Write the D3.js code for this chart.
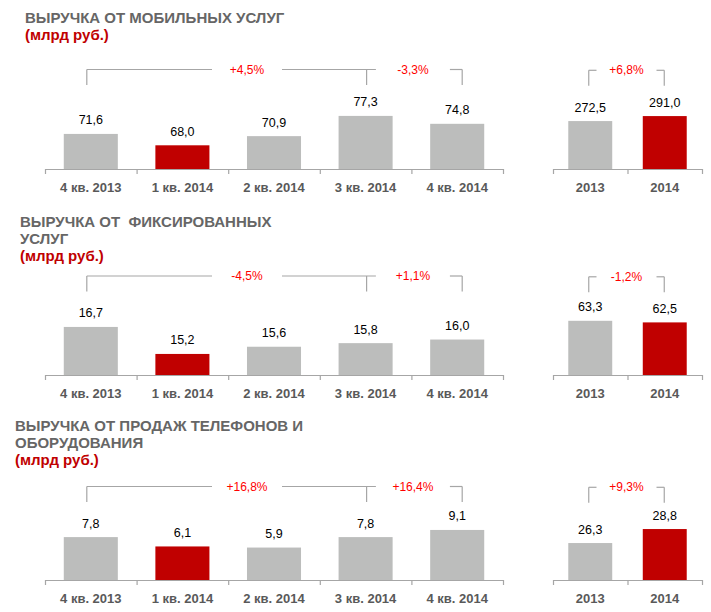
<!DOCTYPE html>
<html>
<head>
<meta charset="utf-8">
<script src="https://cdn.jsdelivr.net/npm/d3@7"></script>
<style>
  body { margin: 0; background: #fff; }
  svg { display: block; font-family: Arial, "Liberation Sans", sans-serif; }
</style>
</head>
<body>
<div id="chart"></div>
<script>
// Data
const quarters = ['4 кв. 2013', '1 кв. 2014', '2 кв. 2014', '3 кв. 2014', '4 кв. 2014'];
const years = ['2013', '2014'];

const mobileQuarterly = [71.6, 68.0, 70.9, 77.3, 74.8];
const mobileYearly = [272.5, 291.0];
const mobileChanges = ['+4,5%', '-3,3%', '+6,8%'];

const fixedQuarterly = [16.7, 15.2, 15.6, 15.8, 16.0];
const fixedYearly = [63.3, 62.5];
const fixedChanges = ['-4,5%', '+1,1%', '-1,2%'];

const equipQuarterly = [7.8, 6.1, 5.9, 7.8, 9.1];
const equipYearly = [26.3, 28.8];
const equipChanges = ['+16,8%', '+16,4%', '+9,3%'];

const titles = [
    ['ВЫРУЧКА ОТ МОБИЛЬНЫХ УСЛУГ'],
    ['ВЫРУЧКА ОТ  ФИКСИРОВАННЫХ', 'УСЛУГ'],
    ['ВЫРУЧКА ОТ ПРОДАЖ ТЕЛЕФОНОВ И', 'ОБОРУДОВАНИЯ']
];
const unitLabel = '(млрд руб.)';
const highlightIndex = 1;

// Layout / styling
const width = 711;
const height = 612;
const colors = { bar: '#bcbdbc', highlight: '#c00000', title: '#666666', unit: '#c00000', axis: '#a6a6a6', cat: '#595959', change: '#ff0000' };

const panels = [
    { q: mobileQuarterly, y: mobileYearly, ch: mobileChanges, title: titles[0], titleX: 25, titleY: 23, axisY: 169, bracketY: 69.5,
      qBase: 60.5, qPx: 3.16, yBase: 95, yPx: 0.27 },
    { q: fixedQuarterly, y: fixedYearly, ch: fixedChanges, title: titles[1], titleX: 20, titleY: 227, axisY: 375, bracketY: 276,
      qBase: 14.03, qPx: 18, yBase: 36.2, yPx: 2 },
    { q: equipQuarterly, y: equipYearly, ch: equipChanges, title: titles[2], titleX: 15, titleY: 431, axisY: 580, bracketY: 486.5,
      qBase: 0, qPx: 5.5, yBase: 19.7, yPx: 5.6 }
];

const svg = d3.select('#chart')
    .append('svg')
    .attr('width', width)
    .attr('height', height);

// Band scales shared by all panels
const xQ = d3.scaleBand().domain(quarters).range([45, 503]).paddingInner(0.41).paddingOuter(0.205);
const xY = d3.scaleBand().domain(years).range([553, 702]).paddingInner(0.41).paddingOuter(0.205);

function drawBars(g, x, values, axisY, base, px) {
    const maxV = d3.max(values);
    const y = d3.scaleLinear()
        .domain([base, maxV])
        .range([axisY, axisY - px * (maxV - base)]);
    const cats = x.domain();

    g.selectAll(null)
        .data(values)
        .enter()
        .append('rect')
        .attr('x', (d, i) => x(cats[i]))
        .attr('y', d => y(d))
        .attr('width', x.bandwidth())
        .attr('height', d => axisY - y(d))
        .attr('fill', (d, i) => i === highlightIndex ? colors.highlight : colors.bar);

    g.selectAll(null)
        .data(values)
        .enter()
        .append('text')
        .attr('x', (d, i) => x(cats[i]) + x.bandwidth() / 2)
        .attr('y', d => y(d) - 9.5)
        .attr('text-anchor', 'middle')
        .attr('font-size', '12.5px')
        .attr('fill', '#000')
        .text(d => d3.format('.1f')(d).replace('.', ','));

    // Axis line with ticks at band boundaries
    const [r0, r1] = x.range();
    g.append('line')
        .attr('x1', r0).attr('x2', r1)
        .attr('y1', axisY + 0.5).attr('y2', axisY + 0.5)
        .attr('stroke', colors.axis)
        .attr('stroke-width', 1.2);
    g.selectAll(null)
        .data(d3.range(cats.length + 1))
        .enter()
        .append('line')
        .attr('x1', i => r0 + i * x.step() + 0.5)
        .attr('x2', i => r0 + i * x.step() + 0.5)
        .attr('y1', axisY)
        .attr('y2', axisY + 5)
        .attr('stroke', colors.axis)
        .attr('stroke-width', 1.2);

    g.selectAll(null)
        .data(cats)
        .enter()
        .append('text')
        .attr('x', d => x(d) + x.bandwidth() / 2)
        .attr('y', axisY + 22.5)
        .attr('text-anchor', 'middle')
        .attr('font-size', '13px')
        .attr('font-weight', 'bold')
        .attr('fill', colors.cat)
        .text(d => d);
}

function drawBracket(g, segments, verticals, y, labels) {
    g.selectAll(null)
        .data(segments)
        .enter()
        .append('line')
        .attr('x1', d => d[0]).attr('x2', d => d[1])
        .attr('y1', y).attr('y2', y)
        .attr('stroke', colors.axis)
        .attr('stroke-width', 1.2);
    g.selectAll(null)
        .data(verticals)
        .enter()
        .append('line')
        .attr('x1', d => d).attr('x2', d => d)
        .attr('y1', y).attr('y2', y + 15.5)
        .attr('stroke', colors.axis)
        .attr('stroke-width', 1.2);
    g.selectAll(null)
        .data(labels)
        .enter()
        .append('text')
        .attr('x', d => d.x)
        .attr('y', y + 4)
        .attr('text-anchor', 'middle')
        .attr('font-size', '12px')
        .attr('fill', colors.change)
        .text(d => d.text);
}

const qc = i => xQ(quarters[i]) + xQ.bandwidth() / 2;
const yc = i => xY(years[i]) + xY.bandwidth() / 2;

panels.forEach(p => {
    const g = svg.append('g');

    // Title
    p.title.forEach((line, i) => {
        g.append('text')
            .attr('x', p.titleX)
            .attr('y', p.titleY + i * 16.5)
            .attr('font-size', '15px')
            .attr('font-weight', 'bold')
            .attr('fill', colors.title)
            .attr('xml:space', 'preserve')
            .style('white-space', 'pre')
            .text(line);
    });
    g.append('text')
        .attr('x', p.titleX)
        .attr('y', p.titleY + p.title.length * 16.5 + 0.5)
        .attr('font-size', '15px')
        .attr('font-weight', 'bold')
        .attr('fill', colors.unit)
        .text(unitLabel);

    drawBars(g, xQ, p.q, p.axisY, p.qBase, p.qPx);
    drawBars(g, xY, p.y, p.axisY, p.yBase, p.yPx);

    // Quarterly brackets: 4q2013 -> 3q2014 and 3q2014 -> 4q2014
    const t1 = qc(2) - 27;
    const t2 = (qc(3) + qc(4)) / 2 + 1.5;
    const left = qc(0) - 4;
    const mid = qc(3) + 1;
    const right = qc(4) + 5;
    drawBracket(g,
        [[left, t1 - 35], [t1 + 35, t2 - 37], [t2 + 37, right]],
        [left, mid, right],
        p.bracketY,
        [{ x: t1, text: p.ch[0] }, { x: t2, text: p.ch[1] }]);

    // Yearly bracket
    const yl = yc(0) - 1.5;
    const yr = yc(1) - 0.5;
    const t3 = (yl + yr) / 2;
    drawBracket(g,
        [[yl, t3 - 30], [t3 + 30, yr]],
        [yl, yr],
        p.bracketY + 0.8,
        [{ x: t3, text: p.ch[2] }]);
});
</script>
</body>
</html>
